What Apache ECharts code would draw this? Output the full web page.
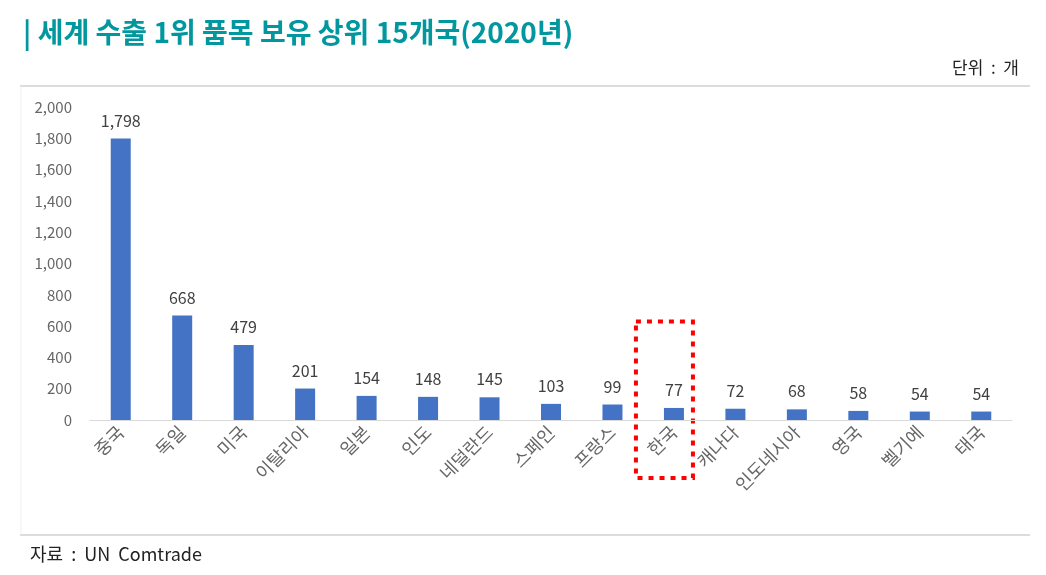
<!DOCTYPE html>
<html>
<head>
<meta charset="utf-8">
<script src="https://cdn.jsdelivr.net/npm/echarts@6/dist/echarts.min.js"></script>
<style>
  html, body { margin: 0; padding: 0; background: #fff; }
  #chart { width: 1046px; height: 575px; }
</style>
</head>
<body>
<div id="chart"></div>
<script>
const countries = ['중국', '독일', '미국', '이탈리아', '일본', '인도', '네덜란드', '스페인', '프랑스', '한국', '캐나다', '인도네시아', '영국', '벨기에', '태국']
const itemCounts = [1798, 668, 479, 201, 154, 148, 145, 103, 99, 77, 72, 68, 58, 54, 54]
const yTicks = [0, 200, 400, 600, 800, 1000, 1200, 1400, 1600, 1800, 2000]
const highlight = '한국'

const font = '"Noto Sans CJK KR", "Noto Sans", sans-serif'
let myChart = echarts.init(document.getElementById('chart'))

let option = {
  animation: false,
  textStyle: { fontFamily: font },
  title: {
    text: '| 세계 수출 1위 품목 보유 상위 15개국(2020년)',
    left: 18, top: 13,
    textStyle: { color: '#00979f', fontSize: 28, fontWeight: 'bold', fontFamily: font }
  },
  grid: { left: 90, right: 34, top: 107, bottom: 155 },
  xAxis: {
    type: 'category',
    data: countries,
    axisLine: { lineStyle: { color: '#d9d9d9' } },
    axisTick: { show: false },
    axisLabel: { rotate: 45, color: '#666', fontSize: 18, margin: 9, interval: 0 }
  },
  yAxis: {
    type: 'value',
    min: yTicks[0], max: yTicks[yTicks.length - 1], interval: 200,
    axisLine: { show: false },
    axisTick: { show: false },
    splitLine: { show: false },
    axisLabel: {
      color: '#666', fontSize: 15, margin: 18,
      formatter: v => v.toLocaleString('en-US')
    }
  },
  series: [{
    type: 'bar',
    data: itemCounts,
    barWidth: 20,
    itemStyle: { color: '#4472c4' },
    label: {
      show: true, position: 'top', distance: 10,
      color: '#404040', fontSize: 16,
      formatter: p => p.value.toLocaleString('en-US')
    }
  }],
  graphic: [
    { id: 'topLine', type: 'line', shape: { x1: 20, y1: 86, x2: 1030, y2: 86 }, style: { stroke: '#d0d0d0', lineWidth: 1.5 } },
    { id: 'bottomLine', type: 'line', shape: { x1: 20, y1: 535, x2: 1030, y2: 535 }, style: { stroke: '#d0d0d0', lineWidth: 1.5 } },
    { id: 'leftLine', type: 'line', shape: { x1: 21, y1: 86, x2: 21, y2: 535 }, style: { stroke: '#f0f0f0', lineWidth: 1 } },
    { id: 'unit', type: 'text', right: 27, top: 59, style: { text: '단위  :  개', fill: '#222', fontSize: 17, fontFamily: font } },
    { id: 'source', type: 'text', left: 30, top: 545, style: { text: '자료  :  UN  Comtrade', fill: '#222', fontSize: 18, fontFamily: font } }
  ]
}
myChart.setOption(option)

// red dotted box around the highlighted category
const idx = countries.indexOf(highlight)
const topPt = myChart.convertToPixel({ gridIndex: 0 }, [idx, 630])
const basePt = myChart.convertToPixel({ gridIndex: 0 }, [idx, 0])
myChart.setOption({
  graphic: [{
    id: 'highlightBox',
    type: 'rect',
    shape: { x: topPt[0] - 38, y: topPt[1], width: 57, height: basePt[1] - topPt[1] + 58 },
    style: { fill: 'none', stroke: '#ff0000', lineWidth: 4, lineDash: [5, 6] }
  }]
})
</script>
</body>
</html>
